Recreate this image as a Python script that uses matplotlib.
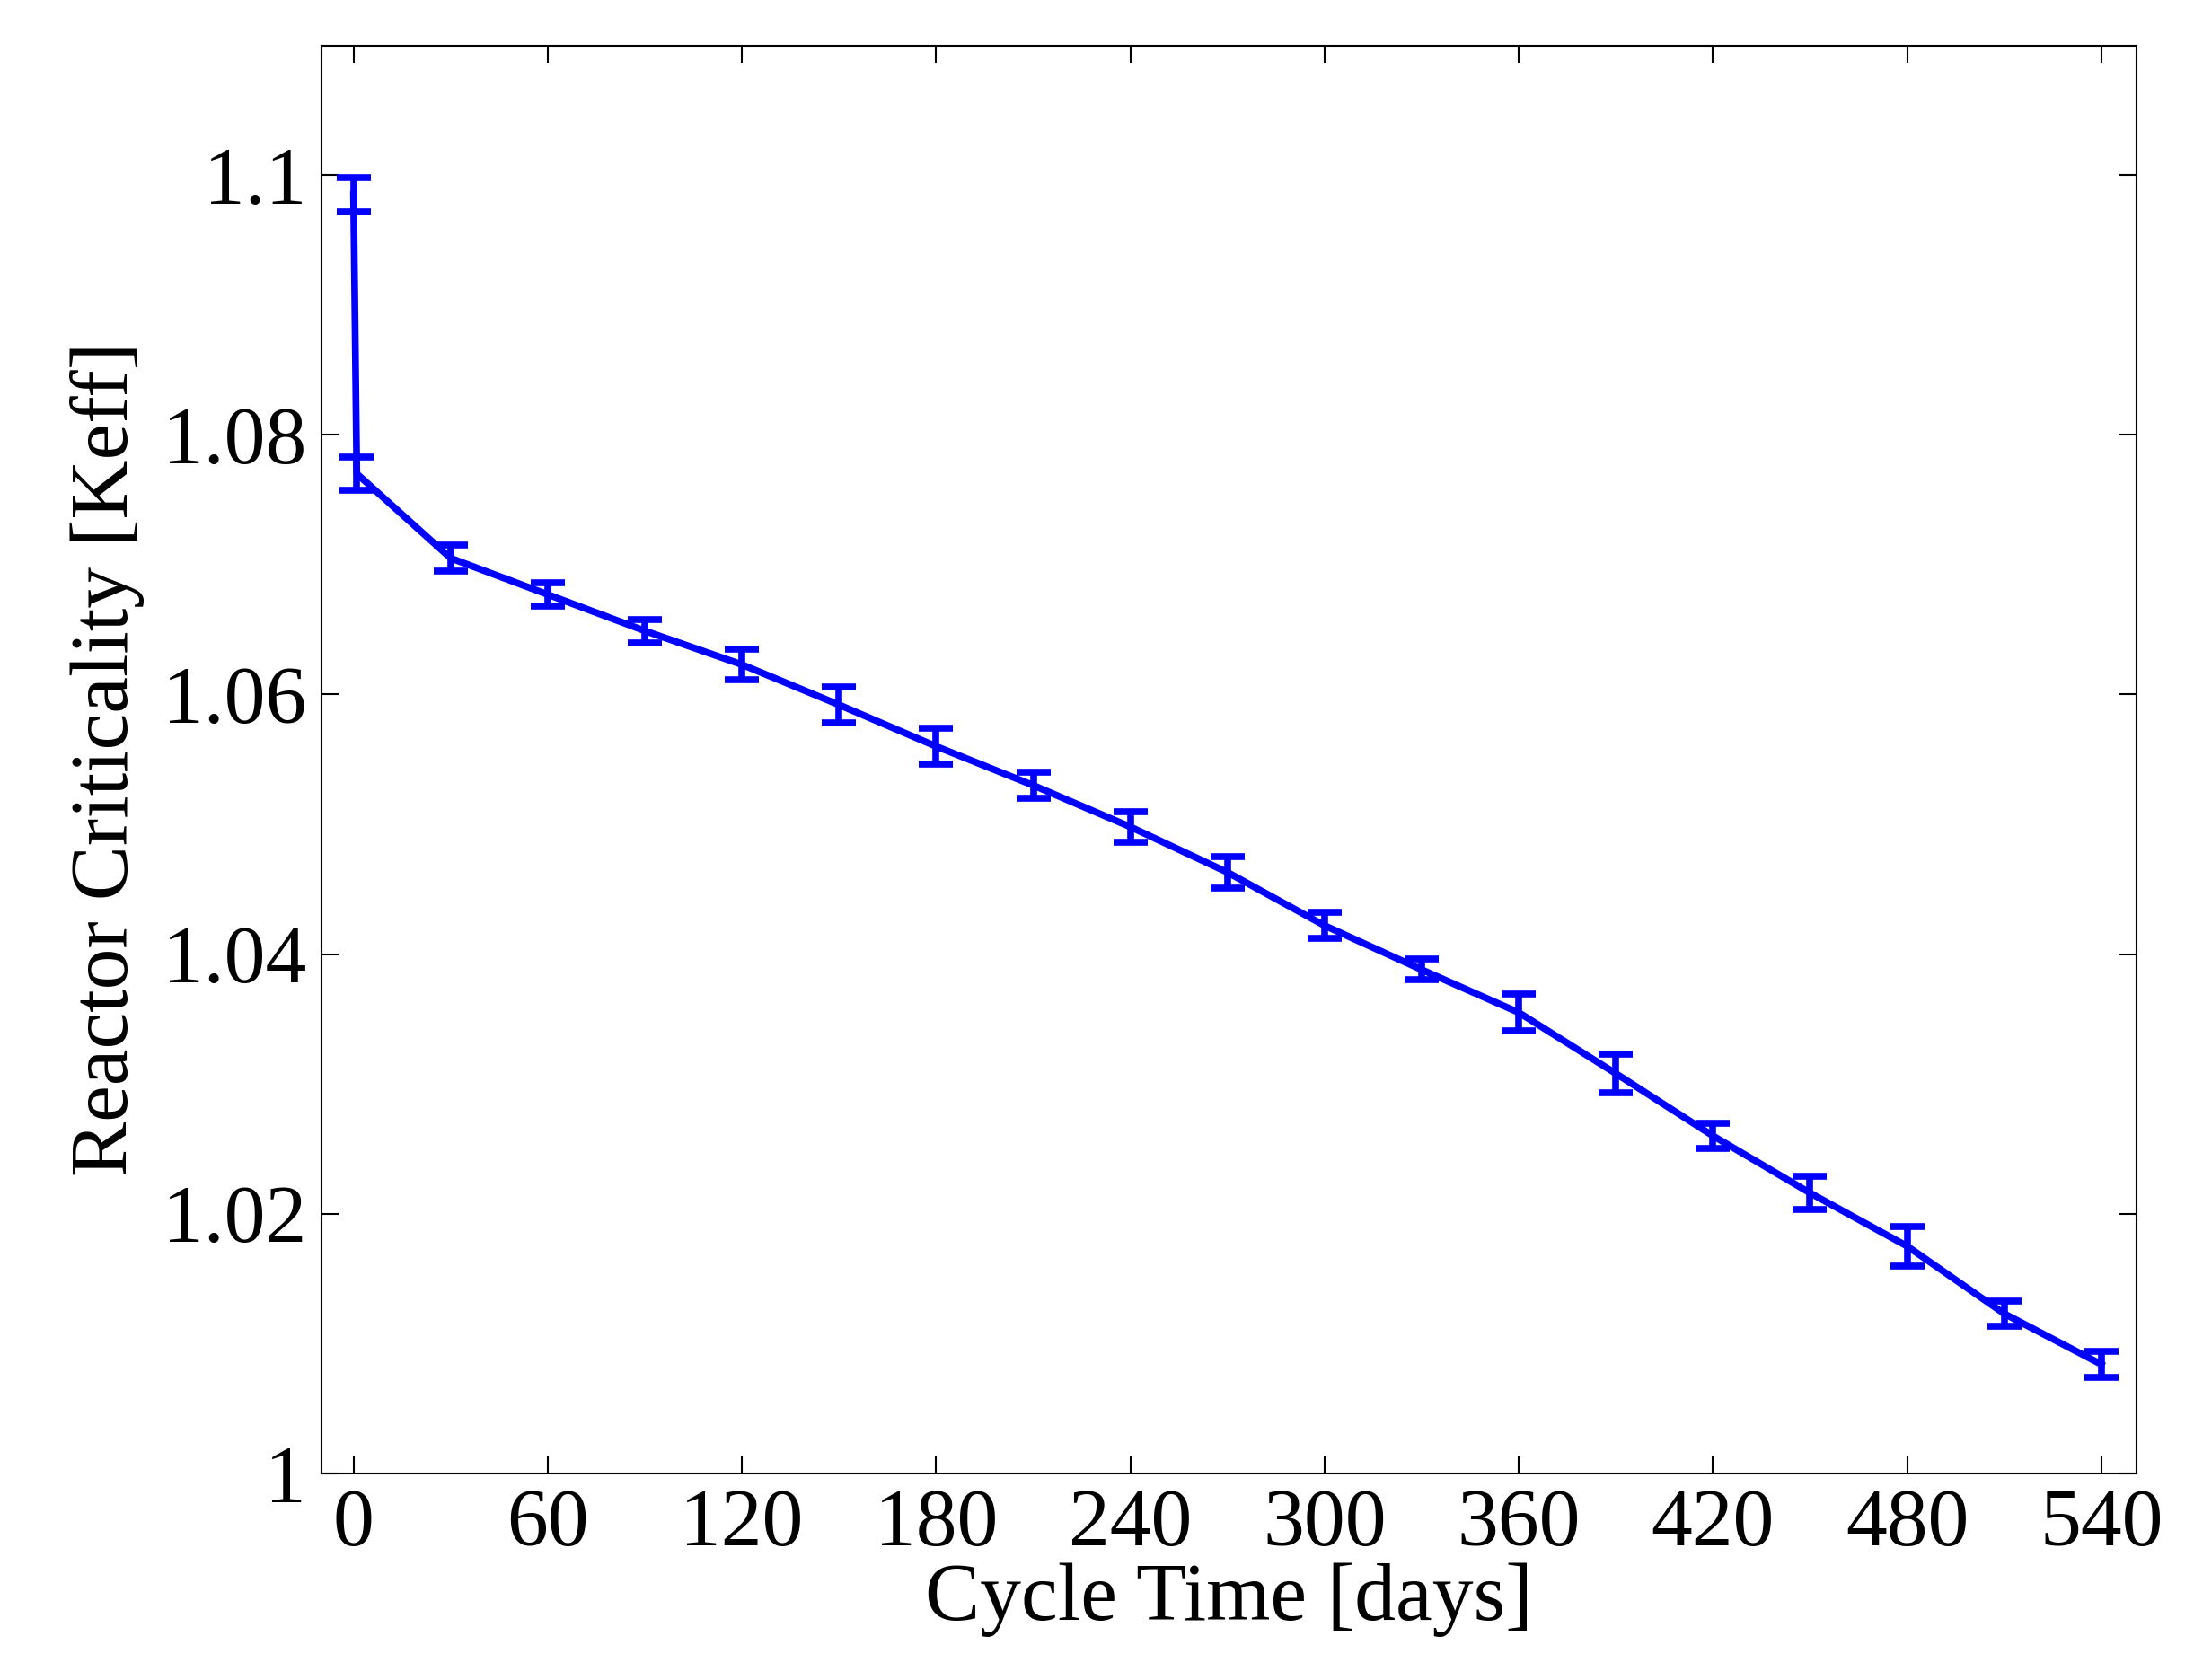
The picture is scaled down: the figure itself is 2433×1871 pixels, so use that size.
import matplotlib
matplotlib.use("Agg")
import matplotlib.pyplot as plt

days = [0, 1, 30, 60, 90, 120, 150, 180, 210, 240, 270, 300, 330, 360, 390, 420, 450, 480, 510, 540]
keff = [1.0985, 1.0770, 1.0705, 1.0677, 1.0649, 1.0623, 1.0592, 1.0560, 1.0530, 1.0498,
        1.0463, 1.0422, 1.0388, 1.0355, 1.0308, 1.0260, 1.0216, 1.0175, 1.0123, 1.0084]
err = [0.0013, 0.0013, 0.0010, 0.0009, 0.0009, 0.0012, 0.0014, 0.0014, 0.0010, 0.0012,
       0.0012, 0.0010, 0.0008, 0.0014, 0.0015, 0.0010, 0.0013, 0.0015, 0.0010, 0.0010]

plt.rcParams['font.family'] = ['Liberation Serif', 'DejaVu Serif']
fig = plt.figure(figsize=(24.33, 18.71), dpi=100)
ax = fig.add_axes([0.147, 0.123, 0.831, 0.85])
ax.errorbar(days, keff, yerr=err, color='#0000ff', lw=5.5, elinewidth=5.5,
            capsize=14, capthick=5.5)
ax.set_xlim(-10, 551)
ax.set_ylim(1.0, 1.11)
ax.set_xticks(range(0, 541, 60))
ax.set_yticks([1, 1.02, 1.04, 1.06, 1.08, 1.1])
ax.set_yticklabels(['1', '1.02', '1.04', '1.06', '1.08', '1.1'])
ax.tick_params(direction='in', top=True, right=True, length=14, width=1.5,
               labelsize=66, pad=12)
for s in ax.spines.values():
    s.set_linewidth(1.5)
ax.set_xlabel('Cycle Time [days]', fontsize=66, labelpad=0)
ax.set_ylabel('Reactor Criticality [Keff]', fontsize=66, labelpad=14)
fig.savefig('out.png', dpi=100)
